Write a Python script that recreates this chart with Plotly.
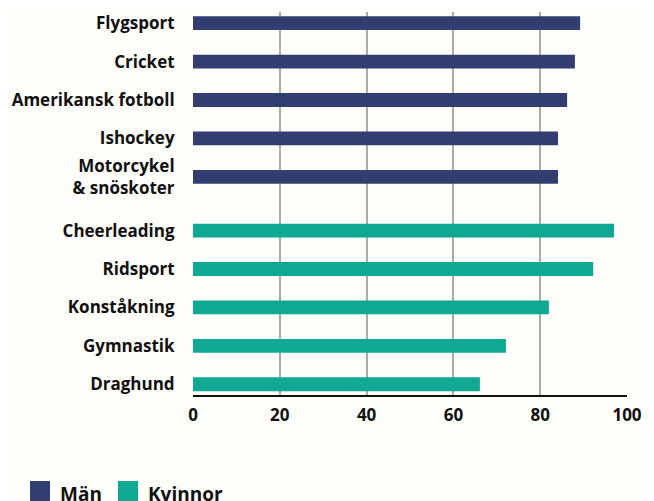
import plotly.graph_objects as go

# data
men_sports = ['Flygsport', 'Cricket', 'Amerikansk fotboll', 'Ishockey', 'Motorcykel<br>& snöskoter']
men_values = [89.2, 88.0, 86.2, 84.1, 84.1]
women_sports = ['Cheerleading', 'Ridsport', 'Konståkning', 'Gymnastik', 'Draghund']
women_values = [97.0, 92.2, 82.0, 72.1, 66.1]
x_ticks = [0, 20, 40, 60, 80, 100]

MEN_COLOR = '#323E70'
WOMEN_COLOR = '#0FA892'
BG = '#FDFDF9'
FONT = 'Open Sans, sans-serif'

# rows from the bottom; a small extra gap between the two groups
group_gap = 0.4
women_pos = [len(women_sports) - 1 - i for i in range(len(women_sports))]
men_pos = [len(women_sports) + group_gap + len(men_sports) - 1 - i for i in range(len(men_sports))]

fig = go.Figure()
fig.add_trace(go.Bar(x=men_values, y=men_pos, orientation='h', width=0.36,
                     marker=dict(color=MEN_COLOR, line=dict(width=0)), name='Män'))
fig.add_trace(go.Bar(x=women_values, y=women_pos, orientation='h', width=0.36,
                     marker=dict(color=WOMEN_COLOR, line=dict(width=0)), name='Kvinnor'))

# page has an 8px body margin, so the figure sits at (8, 8) in the window
OFF = 8
L, T = 193 - OFF, 12 - OFF
PW, PH = 434, 383

def px_x(px):
    return (px - OFF - L) / PW

def px_y(py):
    return 1 - (py - OFF - T) / PH

# legend drawn by hand (big squares, cut off at the bottom like the original)
legend_items = [('Män', MEN_COLOR, 30), ('Kvinnor', WOMEN_COLOR, 118)]
for label, color, px0 in legend_items:
    fig.add_shape(type='rect', xref='paper', yref='paper',
                  x0=px_x(px0), x1=px_x(px0 + 20),
                  y0=px_y(481), y1=px_y(505),
                  fillcolor=color, line=dict(width=0))
    fig.add_annotation(text=f'<b>{label}</b>', xref='paper', yref='paper',
                       x=px_x(px0 + 28), y=px_y(494),
                       xanchor='left', yanchor='middle', showarrow=False,
                       font=dict(size=19, color='#111111', family=FONT))

fig.update_layout(
    width=654, height=501,
    margin=dict(l=L, r=654 - PW - L, t=T, b=501 - PH - T, autoexpand=False),
    paper_bgcolor=BG, plot_bgcolor=BG,
    showlegend=False,
    font=dict(family=FONT, size=17, color='#111111'),
    xaxis=dict(range=[0, 100], tickvals=x_ticks,
               ticktext=[f'<b>{v}</b>' for v in x_ticks],
               showgrid=True, gridcolor='#ABABAB', gridwidth=1.5,
               zeroline=False, showline=True, linecolor='#111111', linewidth=2,
               ticks='outside', ticklen=4, tickcolor='rgba(0,0,0,0)',
               tickfont=dict(size=17)),
    yaxis=dict(range=[-0.28, 9.69],
               tickvals=men_pos + women_pos,
               ticktext=[f'<b>{s}</b>' for s in men_sports + women_sports],
               showgrid=False, zeroline=False,
               ticks='outside', ticklen=14, tickcolor='rgba(0,0,0,0)',
               tickfont=dict(size=17)),
)

fig.write_html('out.html')
